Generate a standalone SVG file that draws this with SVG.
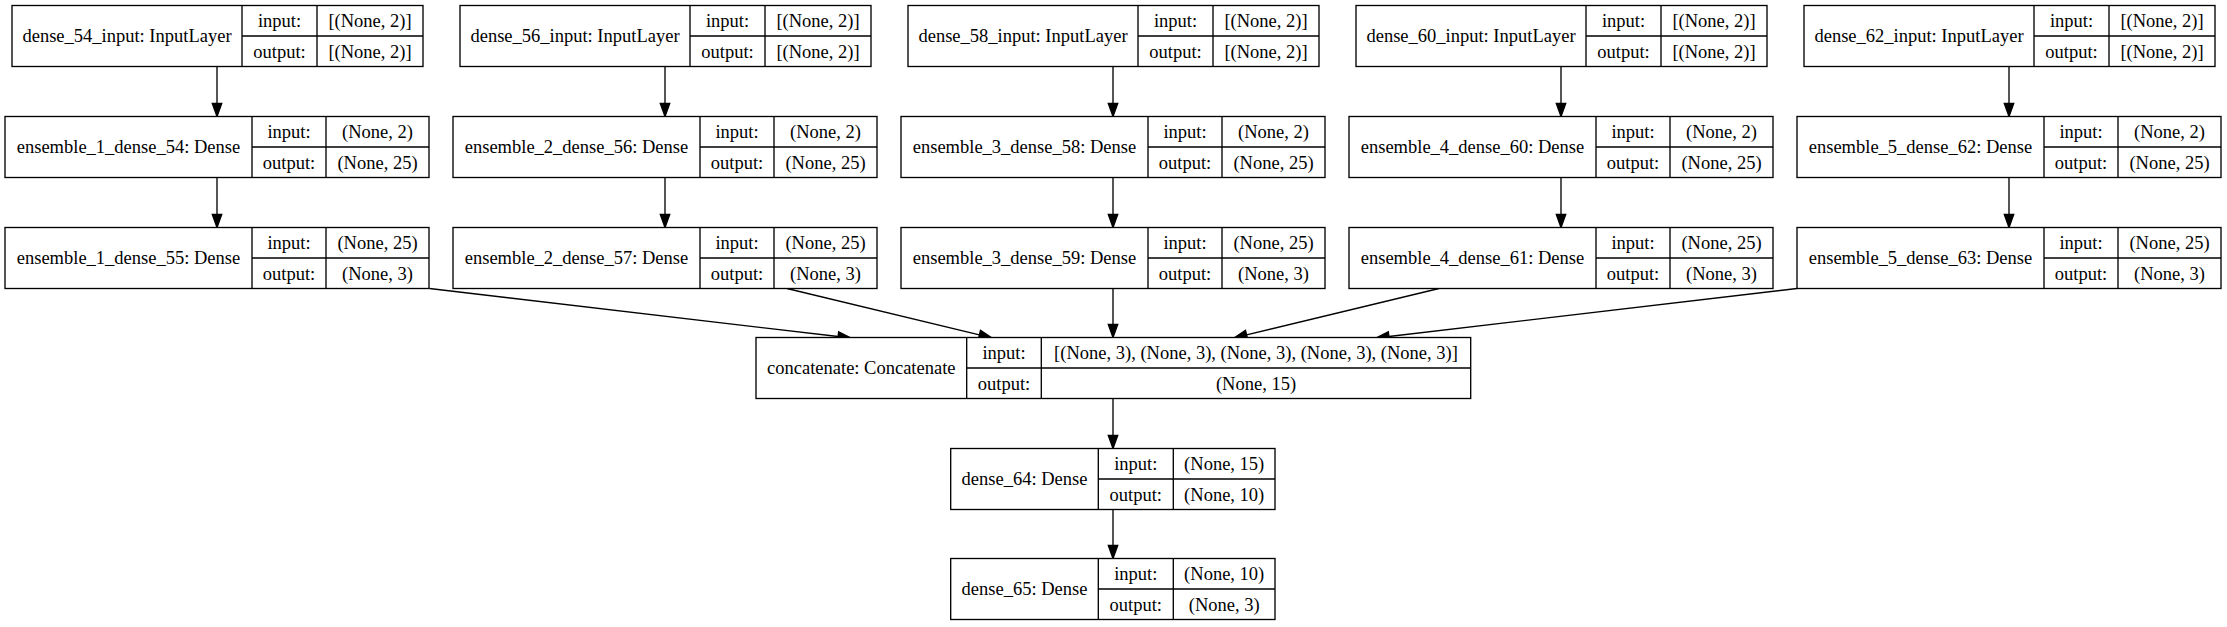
<svg xmlns="http://www.w3.org/2000/svg" width="2227" height="627" viewBox="0 0 2227 627" font-family="'Liberation Serif', 'Times New Roman', serif">
<style>
.box{fill:#fff;stroke:#000;stroke-width:1.33}
.ln{stroke:#000;stroke-width:1.33;fill:none}
text{font-family:"Liberation Serif","Times New Roman",serif;font-size:18.5px;fill:#000;text-anchor:middle}
.edge{stroke:#000;stroke-width:1.33;fill:none;marker-end:url(#ah)}
</style>
<defs>
<marker id="ah" markerUnits="userSpaceOnUse" orient="auto" markerWidth="14" markerHeight="10" viewBox="0 -5 14 10" refX="0" refY="0" overflow="visible">
<path d="M0,-4.7 L13,0 L0,4.7 Z" fill="#000" stroke="#000" stroke-width="1.33"/>
</marker>
</defs>
<rect width="2227" height="627" fill="#fff"/>

<g id="connectors">
<line class="edge" x1="217" y1="66.5" x2="217" y2="103.5"/>
<line class="edge" x1="665" y1="66.5" x2="665" y2="103.5"/>
<line class="edge" x1="1113" y1="66.5" x2="1113" y2="103.5"/>
<line class="edge" x1="1561" y1="66.5" x2="1561" y2="103.5"/>
<line class="edge" x1="2009" y1="66.5" x2="2009" y2="103.5"/>
<line class="edge" x1="217" y1="177.5" x2="217" y2="214.5"/>
<line class="edge" x1="665" y1="177.5" x2="665" y2="214.5"/>
<line class="edge" x1="1113" y1="177.5" x2="1113" y2="214.5"/>
<line class="edge" x1="1561" y1="177.5" x2="1561" y2="214.5"/>
<line class="edge" x1="2009" y1="177.5" x2="2009" y2="214.5"/>
<line class="edge" x1="429.5" y1="288.5" x2="838.1" y2="336.5"/>
<line class="edge" x1="787" y1="288.5" x2="979.4" y2="334.9"/>
<line class="edge" x1="1113" y1="288.5" x2="1113" y2="324.5"/>
<line class="edge" x1="1439" y1="288.5" x2="1246.6" y2="334.9"/>
<line class="edge" x1="1797" y1="288.5" x2="1388.9" y2="336.5"/>
<line class="edge" x1="1113" y1="398.5" x2="1113" y2="435.5"/>
<line class="edge" x1="1113" y1="509.5" x2="1113" y2="545.5"/>
</g>

<g id="dense_54_input" transform="translate(12,5.5)">
<rect class="box" width="411" height="61"/>
<path class="ln" d="M230,0V61M305,0V61M230,30.5H411"/>
<text x="115" y="36.5">dense_54_input: InputLayer</text>
<text x="267.5" y="21.5">input:</text><text x="267.5" y="52">output:</text>
<text x="358" y="21.5">[(None, 2)]</text><text x="358" y="52">[(None, 2)]</text>
</g>
<g id="dense_56_input" transform="translate(460,5.5)">
<rect class="box" width="411" height="61"/>
<path class="ln" d="M230,0V61M305,0V61M230,30.5H411"/>
<text x="115" y="36.5">dense_56_input: InputLayer</text>
<text x="267.5" y="21.5">input:</text><text x="267.5" y="52">output:</text>
<text x="358" y="21.5">[(None, 2)]</text><text x="358" y="52">[(None, 2)]</text>
</g>
<g id="dense_58_input" transform="translate(908,5.5)">
<rect class="box" width="411" height="61"/>
<path class="ln" d="M230,0V61M305,0V61M230,30.5H411"/>
<text x="115" y="36.5">dense_58_input: InputLayer</text>
<text x="267.5" y="21.5">input:</text><text x="267.5" y="52">output:</text>
<text x="358" y="21.5">[(None, 2)]</text><text x="358" y="52">[(None, 2)]</text>
</g>
<g id="dense_60_input" transform="translate(1356,5.5)">
<rect class="box" width="411" height="61"/>
<path class="ln" d="M230,0V61M305,0V61M230,30.5H411"/>
<text x="115" y="36.5">dense_60_input: InputLayer</text>
<text x="267.5" y="21.5">input:</text><text x="267.5" y="52">output:</text>
<text x="358" y="21.5">[(None, 2)]</text><text x="358" y="52">[(None, 2)]</text>
</g>
<g id="dense_62_input" transform="translate(1804,5.5)">
<rect class="box" width="411" height="61"/>
<path class="ln" d="M230,0V61M305,0V61M230,30.5H411"/>
<text x="115" y="36.5">dense_62_input: InputLayer</text>
<text x="267.5" y="21.5">input:</text><text x="267.5" y="52">output:</text>
<text x="358" y="21.5">[(None, 2)]</text><text x="358" y="52">[(None, 2)]</text>
</g>

<g id="ensemble_1_dense_54" transform="translate(5,116.5)">
<rect class="box" width="424" height="61"/>
<path class="ln" d="M247,0V61M321,0V61M247,30.5H424"/>
<text x="123.5" y="36.5">ensemble_1_dense_54: Dense</text>
<text x="284" y="21.5">input:</text><text x="284" y="52">output:</text>
<text x="372.5" y="21.5">(None, 2)</text><text x="372.5" y="52">(None, 25)</text>
</g>
<g id="ensemble_2_dense_56" transform="translate(453,116.5)">
<rect class="box" width="424" height="61"/>
<path class="ln" d="M247,0V61M321,0V61M247,30.5H424"/>
<text x="123.5" y="36.5">ensemble_2_dense_56: Dense</text>
<text x="284" y="21.5">input:</text><text x="284" y="52">output:</text>
<text x="372.5" y="21.5">(None, 2)</text><text x="372.5" y="52">(None, 25)</text>
</g>
<g id="ensemble_3_dense_58" transform="translate(901,116.5)">
<rect class="box" width="424" height="61"/>
<path class="ln" d="M247,0V61M321,0V61M247,30.5H424"/>
<text x="123.5" y="36.5">ensemble_3_dense_58: Dense</text>
<text x="284" y="21.5">input:</text><text x="284" y="52">output:</text>
<text x="372.5" y="21.5">(None, 2)</text><text x="372.5" y="52">(None, 25)</text>
</g>
<g id="ensemble_4_dense_60" transform="translate(1349,116.5)">
<rect class="box" width="424" height="61"/>
<path class="ln" d="M247,0V61M321,0V61M247,30.5H424"/>
<text x="123.5" y="36.5">ensemble_4_dense_60: Dense</text>
<text x="284" y="21.5">input:</text><text x="284" y="52">output:</text>
<text x="372.5" y="21.5">(None, 2)</text><text x="372.5" y="52">(None, 25)</text>
</g>
<g id="ensemble_5_dense_62" transform="translate(1797,116.5)">
<rect class="box" width="424" height="61"/>
<path class="ln" d="M247,0V61M321,0V61M247,30.5H424"/>
<text x="123.5" y="36.5">ensemble_5_dense_62: Dense</text>
<text x="284" y="21.5">input:</text><text x="284" y="52">output:</text>
<text x="372.5" y="21.5">(None, 2)</text><text x="372.5" y="52">(None, 25)</text>
</g>

<g id="ensemble_1_dense_55" transform="translate(5,227.5)">
<rect class="box" width="424" height="61"/>
<path class="ln" d="M247,0V61M321,0V61M247,30.5H424"/>
<text x="123.5" y="36.5">ensemble_1_dense_55: Dense</text>
<text x="284" y="21.5">input:</text><text x="284" y="52">output:</text>
<text x="372.5" y="21.5">(None, 25)</text><text x="372.5" y="52">(None, 3)</text>
</g>
<g id="ensemble_2_dense_57" transform="translate(453,227.5)">
<rect class="box" width="424" height="61"/>
<path class="ln" d="M247,0V61M321,0V61M247,30.5H424"/>
<text x="123.5" y="36.5">ensemble_2_dense_57: Dense</text>
<text x="284" y="21.5">input:</text><text x="284" y="52">output:</text>
<text x="372.5" y="21.5">(None, 25)</text><text x="372.5" y="52">(None, 3)</text>
</g>
<g id="ensemble_3_dense_59" transform="translate(901,227.5)">
<rect class="box" width="424" height="61"/>
<path class="ln" d="M247,0V61M321,0V61M247,30.5H424"/>
<text x="123.5" y="36.5">ensemble_3_dense_59: Dense</text>
<text x="284" y="21.5">input:</text><text x="284" y="52">output:</text>
<text x="372.5" y="21.5">(None, 25)</text><text x="372.5" y="52">(None, 3)</text>
</g>
<g id="ensemble_4_dense_61" transform="translate(1349,227.5)">
<rect class="box" width="424" height="61"/>
<path class="ln" d="M247,0V61M321,0V61M247,30.5H424"/>
<text x="123.5" y="36.5">ensemble_4_dense_61: Dense</text>
<text x="284" y="21.5">input:</text><text x="284" y="52">output:</text>
<text x="372.5" y="21.5">(None, 25)</text><text x="372.5" y="52">(None, 3)</text>
</g>
<g id="ensemble_5_dense_63" transform="translate(1797,227.5)">
<rect class="box" width="424" height="61"/>
<path class="ln" d="M247,0V61M321,0V61M247,30.5H424"/>
<text x="123.5" y="36.5">ensemble_5_dense_63: Dense</text>
<text x="284" y="21.5">input:</text><text x="284" y="52">output:</text>
<text x="372.5" y="21.5">(None, 25)</text><text x="372.5" y="52">(None, 3)</text>
</g>

<g id="concatenate" transform="translate(756,337.5)">
<rect class="box" width="714.7" height="61"/>
<path class="ln" d="M210.7,0V61M285.3,0V61M210.7,30.5H714.7"/>
<text x="105.3" y="36.5">concatenate: Concatenate</text>
<text x="248" y="21.5">input:</text><text x="248" y="52">output:</text>
<text x="500" y="21.5">[(None, 3), (None, 3), (None, 3), (None, 3), (None, 3)]</text>
<text x="500" y="52">(None, 15)</text>
</g>

<g id="dense_64" transform="translate(950.7,448.5)">
<rect class="box" width="324.3" height="61"/>
<path class="ln" d="M147.6,0V61M222.6,0V61M147.6,30.5H324.3"/>
<text x="73.8" y="36.5">dense_64: Dense</text>
<text x="185.1" y="21.5">input:</text><text x="185.1" y="52">output:</text>
<text x="273.5" y="21.5">(None, 15)</text><text x="273.5" y="52">(None, 10)</text>
</g>

<g id="dense_65" transform="translate(950.7,558.5)">
<rect class="box" width="324.3" height="61"/>
<path class="ln" d="M147.6,0V61M222.6,0V61M147.6,30.5H324.3"/>
<text x="73.8" y="36.5">dense_65: Dense</text>
<text x="185.1" y="21.5">input:</text><text x="185.1" y="52">output:</text>
<text x="273.5" y="21.5">(None, 10)</text><text x="273.5" y="52">(None, 3)</text>
</g>
</svg>
